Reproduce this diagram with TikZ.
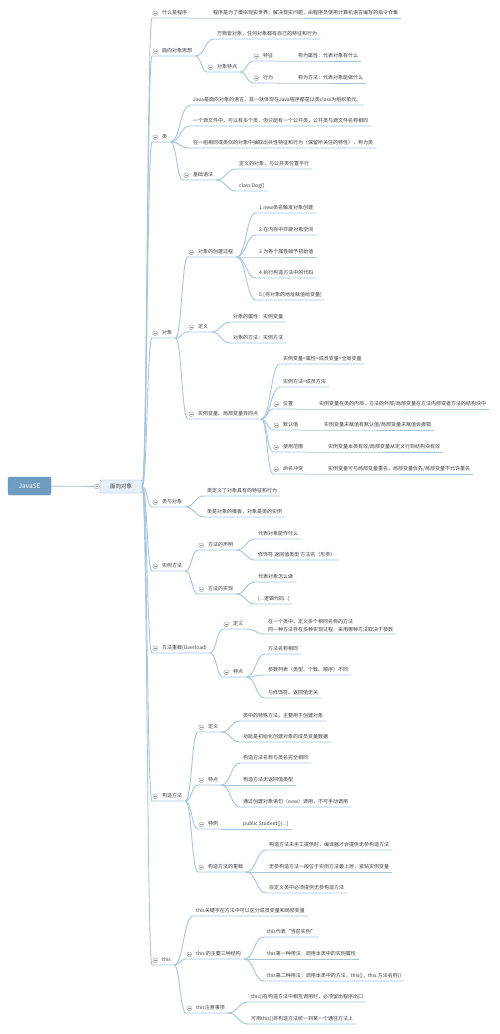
\documentclass[tikz,border=0pt]{standalone}
\usepackage{fontspec}
\newfontfamily\cjk{Noto Sans CJK SC}
\usetikzlibrary{calc}

\definecolor{lineblue}{HTML}{A6C6DF}
\definecolor{rootblue}{HTML}{6F9DC2}
\definecolor{rootedge}{HTML}{5E8DB4}
\definecolor{boxblue}{HTML}{E6EFF7}
\definecolor{boxedge}{HTML}{8DB4D4}
\definecolor{foldgray}{HTML}{9C9C9C}
\definecolor{textgray}{HTML}{3C3C3C}

\tikzset{
  branch/.style={draw=lineblue, line width=0.9pt},
  link/.style={to path={let \p1=(\tikztostart), \p2=(\tikztotarget) in
      .. controls (\x1/2+\x2/2,\y1) and (\x1/2+\x2/2,\y2) .. (\tikztotarget)}},
  topic/.style={anchor=south west, inner xsep=3pt, inner ysep=2pt,
      text height=4pt, text depth=1pt, text=textgray,
      font=\cjk\fontsize{5}{6}\selectfont},
  note/.style={topic, align=left, text height=, text depth=,
      font=\cjk\fontsize{5}{8}\selectfont},
  foldmark/.style={circle, draw=foldgray, fill=white, line width=0.4pt,
      minimum size=4.8pt, inner sep=0pt,
      path picture={\draw[foldgray, line width=0.4pt]
        ([xshift=-1.3pt]path picture bounding box.center) --
        ([xshift=1.3pt]path picture bounding box.center);}},
  fold/.style={topic, execute at begin node={\hspace*{7pt}},
      path picture={
        \coordinate (fc) at ([xshift=3pt]path picture bounding box.west);
        \draw[foldgray, fill=white, line width=0.4pt] (fc) circle (2.4pt);
        \draw[foldgray, line width=0.4pt] ([xshift=-1.3pt]fc) -- ([xshift=1.3pt]fc);}},
}

\begin{document}
\begin{tikzpicture}[x=1pt, y=-1pt]

    \fill[white] (0,0) rectangle (500,1034);
    \useasboundingbox (0,0) rectangle (500,1034);

    % centre
    \node[draw=rootedge, fill=rootblue, rounded corners=2pt, minimum width=43pt,
          minimum height=18pt, text=white, font=\cjk\fontsize{6.5}{7}\selectfont]
          (root) at (29.5,486) {JavaSE};
    \node[draw=boxedge, fill=boxblue, rounded corners=1pt, minimum width=42pt,
          minimum height=13pt, text=textgray, font=\cjk\fontsize{5.5}{6}\selectfont]
          (oo) at (121,486.5) {面向对象};
    \draw[branch] (root) -- (oo);
    \node[foldmark] (oo-fold) at (97,486.5) {};

    % 什么是程序
    \node[fold] (prog) at (152,18) {什么是程序};
    \node[topic] (prog-a) at (210,18) {程序是为了模拟现实世界，解决现实问题，由程序员使用计算机语言编写的指令合集};

    % 面向对象思想
    \node[fold] (think) at (152,56) {面向对象思想};
    \node[topic] (think-a) at (214,39) {万物皆对象，任何对象都有自己的特征和行为};
    \node[fold] (think-b) at (207,72) {对象特点};
    \node[fold] (think-b1) at (253,61) {特征};
    \node[topic] (think-b1a) at (295,61) {称为属性：代表对象有什么};
    \node[fold] (think-b2) at (253,83) {行为};
    \node[topic] (think-b2a) at (295,83) {称为方法：代表对象能做什么};

    % 类
    \node[fold] (cls) at (152,142) {类};
    \node[topic] (cls-a) at (190,105) {Java是面向对象的语言，其一就体现在Java程序都是以类class为组织单元。};
    \node[topic] (cls-b) at (190,126) {一个源文件中，可以有多个类，但只能有一个公开类，公开类与源文件名称相同};
    \node[topic] (cls-c) at (190,148) {在一组相同或类似的对象中抽取出共性特征和行为（保留所关注的特性），称为类};
    \node[fold] (cls-d) at (183,180) {基础语法};
    \node[topic] (cls-d1) at (236,169) {定义的对象，与公开类位置平行};
    \node[topic] (cls-d2) at (236,191) {class Dog\{\}};

    % 对象
    \node[fold] (obj) at (152,338) {对象};
    \node[fold] (obj-a) at (188,257) {对象的创建过程};
    \node[topic] (obj-a1) at (256,213) {1.new类名触发对象创建};
    \node[topic] (obj-a2) at (256,235) {2.在内存中开辟对象空间};
    \node[topic] (obj-a3) at (256,257) {3.为各个属性赋予初始值};
    \node[topic] (obj-a4) at (256,278) {4.执行构造方法中的代码};
    \node[topic] (obj-a5) at (256,300) {5.[将对象的地址赋值给变量]};
    \node[fold] (obj-b) at (188,332) {定义};
    \node[topic] (obj-b1) at (230,322) {对象的属性：实例变量};
    \node[topic] (obj-b2) at (230,343) {对象的方法：实例方法};
    \node[fold] (obj-c) at (188,419) {实例变量、局部变量异同点};
    \node[topic] (obj-c1) at (280,364) {实例变量=属性=成员变量=全局变量};
    \node[topic] (obj-c2) at (280,387) {实例方法=成员方法};
    \node[fold] (obj-c3) at (273,409) {位置};
    \node[topic] (obj-c3a) at (316,409) {实例变量在类的内部，方法的外部/局部变量在方法内部或者方法的结构块中};
    \node[fold] (obj-c4) at (273,430) {默认值};
    \node[topic] (obj-c4a) at (321,430) {实例变量未赋值有默认值/局部变量未赋值会报错};
    \node[fold] (obj-c5) at (273,452) {使用范围};
    \node[topic] (obj-c5a) at (325,452) {实例变量本类有效/局部变量从定义行到结构块有效};
    \node[fold] (obj-c6) at (273,474) {命名冲突};
    \node[topic] (obj-c6a) at (325,474) {实例变量可与局部变量重名，局部变量优先/局部变量不允许重名};

    % 类与对象
    \node[fold] (co) at (152,507) {类与对象};
    \node[topic] (co-a) at (204,496) {类定义了对象具有的特征和行为};
    \node[topic] (co-b) at (204,517) {类是对象的模板，对象是类的实例};

    % 实例方法
    \node[fold] (im) at (152,571) {实例方法};
    \node[fold] (im-a) at (198,550) {方法的声明};
    \node[topic] (im-a1) at (255,539) {代表对象能作什么};
    \node[topic] (im-a2) at (255,560) {修饰符 返回值类型 方法名（形参）};
    \node[fold] (im-b) at (198,594) {方法的实现};
    \node[topic] (im-b1) at (255,582) {代表对象怎么做};
    \node[topic] (im-b2) at (255,604) {\{...逻辑代码...\}};

    % 方法重载
    \node[fold] (ol) at (152,653) {方法重载(Overload)};
    \node[fold] (ol-a) at (223,629) {定义};
    \node[note] (ol-a1) at (265,634) {在一个类中，定义多个相同名称的方法\\同一种方法存在多种实现过程，采用哪种方法取决于参数};
    \node[fold] (ol-b) at (223,677) {特点};
    \node[topic] (ol-b1) at (265,654) {方法名称相同};
    \node[topic] (ol-b2) at (265,675) {参数列表（类型、个数、顺序）不同};
    \node[topic] (ol-b3) at (265,698) {与修饰符、返回值无关};

    % 构造方法
    \node[fold] (ct) at (152,801) {构造方法};
    \node[fold] (ct-a) at (198,732) {定义};
    \node[topic] (ct-a1) at (240,721) {类中的特殊方法，主要用于创建对象};
    \node[topic] (ct-a2) at (240,742) {功能是初始化创建对象的成员变量数据};
    \node[fold] (ct-b) at (198,785) {特点};
    \node[topic] (ct-b1) at (240,763) {构造方法名称与类名完全相同};
    \node[topic] (ct-b2) at (240,785) {构造方法无返回值类型};
    \node[topic] (ct-b3) at (240,807) {通过创建对象语句（new）调用，不可手动调用};
    \node[fold] (ct-c) at (198,829) {特例};
    \node[topic] (ct-c1) at (240,829) {public Student()\{...\}};
    \node[fold] (ct-d) at (198,872) {构造方法的重载};
    \node[topic] (ct-d1) at (266,850) {构造方法未手工提供时，编译器才会提供无参构造方法};
    \node[topic] (ct-d2) at (266,872) {无参构造方法一般位于实例方法最上层，紧贴实例变量};
    \node[topic] (ct-d3) at (266,893) {自定义类中必须提供无参构造方法};

    % this
    \node[fold] (th) at (152,965) {this};
    \node[topic] (th-a) at (193,916) {this关键字在方法中可以区分成员变量和局部变量};
    \node[fold] (th-b) at (186,959) {this 的主要三种结构};
    \node[topic] (th-b1) at (264,937) {this代表“当前实例”};
    \node[topic] (th-b2) at (264,959) {this第一种用法：调用本类中的实例属性};
    \node[topic] (th-b3) at (264,981) {this第二种用法：调用本类中的方法，this()，this.方法名称()};
    \node[fold] (th-c) at (186,1013) {this注意事项};
    \node[topic] (th-c1) at (248,1002) {this()在构造方法中相互调用时，必须留出程序出口};
    \node[topic] (th-c2) at (248,1024) {可用this()将构造方法统一到某一个通往方法上};

    % branches
    \foreach \c in {prog, think, cls, obj, co, im, ol, ct, th}
        \draw[branch] (oo.east) to[link] (\c.south west) -- (\c.south east);

    \foreach \p/\c in {prog/prog-a, think/think-a, think/think-b,
            think-b/think-b1, think-b/think-b2, think-b1/think-b1a, think-b2/think-b2a,
            cls/cls-a, cls/cls-b, cls/cls-c, cls/cls-d, cls-d/cls-d1, cls-d/cls-d2,
            obj/obj-a, obj/obj-b, obj/obj-c,
            obj-a/obj-a1, obj-a/obj-a2, obj-a/obj-a3, obj-a/obj-a4, obj-a/obj-a5,
            obj-b/obj-b1, obj-b/obj-b2,
            obj-c/obj-c1, obj-c/obj-c2, obj-c/obj-c3, obj-c/obj-c4, obj-c/obj-c5, obj-c/obj-c6,
            obj-c3/obj-c3a, obj-c4/obj-c4a, obj-c5/obj-c5a, obj-c6/obj-c6a,
            co/co-a, co/co-b,
            im/im-a, im/im-b, im-a/im-a1, im-a/im-a2, im-b/im-b1, im-b/im-b2,
            ol/ol-a, ol/ol-b, ol-a/ol-a1, ol-b/ol-b1, ol-b/ol-b2, ol-b/ol-b3,
            ct/ct-a, ct/ct-b, ct/ct-c, ct/ct-d, ct-a/ct-a1, ct-a/ct-a2,
            ct-b/ct-b1, ct-b/ct-b2, ct-b/ct-b3, ct-c/ct-c1,
            ct-d/ct-d1, ct-d/ct-d2, ct-d/ct-d3,
            th/th-a, th/th-b, th/th-c, th-b/th-b1, th-b/th-b2, th-b/th-b3,
            th-c/th-c1, th-c/th-c2}
        \draw[branch] (\p.south east) to[link] (\c.south west) -- (\c.south east);

\end{tikzpicture}
\end{document}
